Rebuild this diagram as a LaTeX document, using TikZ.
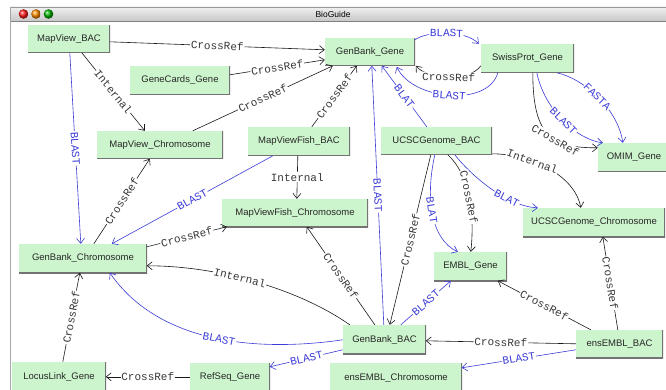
\documentclass[tikz,border=0pt]{standalone}
\usepackage{fontspec}
\setmainfont{Liberation Sans}
\newfontfamily\edgefont{Liberation Mono}
\usetikzlibrary{arrows.meta}
\definecolor{boxgreen}{RGB}{205,245,205}
\definecolor{edgeblue}{RGB}{60,60,215}
\definecolor{edgeblack}{RGB}{25,25,25}
\begin{document}
\begin{tikzpicture}[x=1pt,y=-1pt,
  box/.style={fill=boxgreen, inner sep=0pt, font=\fontsize{9.5}{10}\selectfont, text=black!85,
    path picture={\draw[black!55, line width=1.6pt] (path picture bounding box.north east) -- (path picture bounding box.south east) -- (path picture bounding box.south west);}},
  xref/.style={draw=edgeblack, line width=0.6pt, -{Straight Barb[length=5pt,width=8pt]}},
  blast/.style={xref, draw=edgeblue},
  labh/.style={font=\edgefont\fontsize{11}{11}\selectfont, fill=white, inner sep=0.8pt, text=black!78},
  lab/.style={labh, sloped},
  blab/.style={lab, text=edgeblue},
]
\useasboundingbox (0,0) rectangle (666,390);
\fill[white] (0,0) rectangle (666,390);
% window frame
\shade[top color=black!6, bottom color=black!22] (10,7) rectangle (666,21);
\draw[black!40] (10,7) -- (666,7);
\draw[black!50] (10,21) -- (666,21);
\draw[black!35] (10,7) -- (10,390);
\node[font=\fontsize{8.5}{9}\selectfont] (title) at (333,14) {BioGuide};
\shade[ball color=red!90] (23.5,14) circle (4.8);
\shade[ball color=orange!90!yellow] (36,14) circle (4.8);
\shade[ball color=green!70!black] (48.5,14) circle (4.8);

% nodes
\node[box, minimum width=82pt, minimum height=28pt] (mvb) at (69,39) {MapView\_BAC};
\node[box, minimum width=100pt, minimum height=29pt] (gcg) at (180,80.5) {GeneCards\_Gene};
\node[box, minimum width=90pt, minimum height=28pt] (gbg) at (370,52) {GenBank\_Gene};
\node[box, minimum width=93pt, minimum height=29pt] (spg) at (527.5,58.5) {SwissProt\_Gene};
\node[box, minimum width=126pt, minimum height=28pt] (mvc) at (160,145) {MapView\_Chromosome};
\node[box, minimum width=102pt, minimum height=29pt] (mfb) at (299,141.5) {MapViewFish\_BAC};
\node[box, minimum width=111pt, minimum height=28pt] (ucb) at (436.5,141) {UCSCGenome\_BAC};
\node[box, minimum width=72pt, minimum height=29pt] (omim) at (634,157.5) {OMIM\_Gene};
\node[box, minimum width=146pt, minimum height=28pt] (mfc) at (295,213) {MapViewFish\_Chromosome};
\node[box, minimum width=142pt, minimum height=29pt] (ucc) at (594,222.5) {UCSCGenome\_Chromosome};
\node[box, minimum width=128pt, minimum height=29pt] (gbc) at (83,258.5) {GenBank\_Chromosome};
\node[box, minimum width=73pt, minimum height=29pt] (embl) at (470.5,266.5) {EMBL\_Gene};
\node[box, minimum width=83pt, minimum height=29pt] (gbb) at (384.5,339.5) {GenBank\_BAC};
\node[box, minimum width=87pt, minimum height=28pt] (ensb) at (619.5,344) {ensEMBL\_BAC};
\node[box, minimum width=132pt, minimum height=29pt] (ensc) at (396,377.5) {ensEMBL\_Chromosome};
\node[box, minimum width=94pt, minimum height=29pt] (llg) at (59,376.5) {LocusLink\_Gene};
\node[box, minimum width=80pt, minimum height=29pt] (rsg) at (230,377.5) {RefSeq\_Gene};

% edges
\draw[xref] ([shift={(82,17)}]mvb.north west) -- node[lab]{CrossRef} ([shift={(0,12)}]gbg.north west);
\draw[xref] ([shift={(100,9)}]gcg.north west) -- node[lab]{CrossRef} ([shift={(0,22)}]gbg.north west);
\draw[xref] ([shift={(96,0)}]mvc.north west) -- node[lab]{CrossRef} ([shift={(8,28)}]gbg.north west);
\draw[xref] ([shift={(64,0)}]mfb.north west) -- node[lab]{CrossRef} ([shift={(32,28)}]gbg.north west);
\draw[xref] ([shift={(54,28)}]mvb.north west) -- node[lab]{Internal} ([shift={(48,0)}]mvc.north west);
\draw[blast] ([shift={(42,28)}]mvb.north west) -- node[blab]{BLAST} ([shift={(62,0)}]gbc.north west);
\draw[xref] ([shift={(75,0)}]gbc.north west) -- node[lab]{CrossRef} ([shift={(53,28)}]mvc.north west);
\draw[blast] ([shift={(25,29)}]mfb.north west) -- node[blab]{BLAST} ([shift={(93,0)}]gbc.north west);
\draw[xref] ([shift={(128,3)}]gbc.north west) -- node[lab]{CrossRef} ([shift={(5,28)}]mfc.north west);
\draw[xref] ([shift={(50,29)}]mfb.north west) -- node[labh]{Internal} ([shift={(75,0)}]mfc.north west);
\draw[blast] ([shift={(90,2)}]gbg.north west) .. controls +(13,-9) and +(-14,-14) .. node[blab]{BLAST} ([shift={(-2,0)}]spg.north west);
\draw[xref] ([shift={(0,22)}]spg.north west) .. controls +(-11,16) and +(12,14) .. node[lab]{CrossRef} ([shift={(91,28)}]gbg.north west);
\draw[blast] ([shift={(17,29)}]spg.north west) .. controls +(-10,35) and +(15,33) .. node[blab]{BLAST} ([shift={(72,29)}]gbg.north west);
\draw[blast] ([shift={(46,0)}]ucb.north west) -- node[blab]{BLAT} ([shift={(57,28)}]gbg.north west);
\draw[blast] ([shift={(41,0)}]gbb.north west) -- node[blab]{BLAST} ([shift={(47,28)}]gbg.north west);
\draw[blast] ([shift={(76,29)}]spg.north west) .. controls +(25,5) and +(-5,-35) .. node[blab]{FASTA} ([shift={(25,0)}]omim.north west);
\draw[blast] ([shift={(56,29)}]spg.north west) .. controls +(8,38) and +(-25,-3) .. node[blab,pos=0.5]{BLAST} ([shift={(5,0)}]omim.north west);
\draw[xref] ([shift={(52,29)}]spg.north west) .. controls +(0,65) and +(-45,0) .. node[lab,pos=0.6]{CrossRef} ([shift={(0,5)}]omim.north west);
\draw[xref] ([shift={(111,27)}]ucb.north west) .. controls +(38,0) and +(-6,-33) .. node[lab,pos=0.35]{Internal} ([shift={(58,0)}]ucc.north west);
\draw[blast] ([shift={(74,28)}]ucb.north west) .. controls +(20,25) and +(-28,-1) .. node[blab,pos=0.65]{BLAT} ([shift={(15,0)}]ucc.north west);
\draw[xref] ([shift={(67,28)}]ucb.north west) .. controls +(22,20) and +(4,-37) .. node[lab]{CrossRef} ([shift={(37,0)}]embl.north west);
\draw[blast] ([shift={(54,28)}]ucb.north west) .. controls +(-10,45) and +(-26,-12) .. node[blab,pos=0.45]{BLAT} ([shift={(24,0)}]embl.north west);
\draw[xref] ([shift={(50,28)}]ucb.north west) -- node[lab]{CrossRef} ([shift={(47,0)}]gbb.north west);
\draw[xref] ([shift={(32,0)}]gbb.north west) -- node[lab]{CrossRef} ([shift={(85,28)}]mfc.north west);
\draw[xref] ([shift={(7,0)}]gbb.north west) .. controls +(-50,-35) and +(73,0) .. node[lab,pos=0.58]{Internal} ([shift={(128,22)}]gbc.north west);
\draw[blast] ([shift={(0,15)}]gbb.north west) .. controls +(-83,12) and +(50,72) .. node[blab,pos=0.48]{BLAST} ([shift={(91,29)}]gbc.north west);
\draw[blast] ([shift={(58,0)}]gbb.north west) -- node[blab]{BLAST} ([shift={(17,29)}]embl.north west);
\draw[blast] ([shift={(0,25)}]gbb.north west) -- node[blab]{BLAST} ([shift={(80,4)}]rsg.north west);
\draw[xref] ([shift={(0,14)}]rsg.north west) -- node[lab]{CrossRef} ([shift={(94,15)}]llg.north west);
\draw[xref] ([shift={(51,0)}]llg.north west) -- node[lab]{CrossRef} ([shift={(61,29)}]gbc.north west);
\draw[xref] ([shift={(0,14)}]ensb.north west) -- node[lab]{CrossRef} ([shift={(83,16)}]gbb.north west);
\draw[xref] ([shift={(15,0)}]ensb.north west) -- node[lab]{CrossRef} ([shift={(64,29)}]embl.north west);
\draw[xref] ([shift={(42,0)}]ensb.north west) -- node[lab]{CrossRef} ([shift={(80,29)}]ucc.north west);
\draw[blast] ([shift={(0,20)}]ensb.north west) -- node[blab]{BLAST} ([shift={(132,5)}]ensc.north west);
\end{tikzpicture}
\end{document}
